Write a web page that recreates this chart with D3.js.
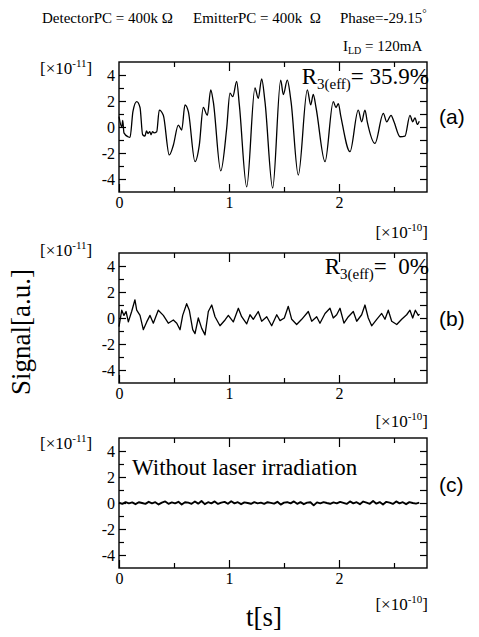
<!DOCTYPE html>
<html><head><meta charset="utf-8">
<script src="https://cdn.jsdelivr.net/npm/d3@7"></script>
<style>
body{margin:0;background:#fff;}
</style></head><body>
<svg id="chart" width="479" height="637"></svg>
<script>
// ---- data (t in units of 1e-10 s, signal in units of 1e-11 a.u.) ----
const seriesA = [
[0.000,0.8],[0.025,0.0],[0.034,0.5],[0.045,-0.45],[0.082,-0.75],[0.100,-0.8],[0.127,1.2],[0.161,1.95],[0.191,1.5],
[0.215,-0.6],[0.236,-0.7],[0.250,-0.3],[0.264,-0.5],[0.280,-0.35],[0.291,-0.6],[0.305,-0.35],[0.318,-0.45],[0.343,-0.36],
[0.366,1.3],[0.403,0.9],[0.457,-2.15],[0.494,-1.4],[0.539,0.15],[0.570,-0.23],[0.600,1.7],[0.630,1.2],[0.691,-2.67],
[0.730,-1.4],[0.766,1.5],[0.803,0.9],[0.834,2.85],[0.857,1.95],[0.925,-3.38],[0.979,-0.1],[1.009,2.6],[1.034,2.33],
[1.070,3.5],[1.094,1.7],[1.161,-4.6],[1.236,3.0],[1.266,2.2],[1.297,3.7],[1.327,1.95],[1.397,-4.7],[1.470,3.6],
[1.494,2.5],[1.530,3.6],[1.564,1.95],[1.630,-3.7],[1.712,2.85],[1.743,1.7],[1.766,2.5],[1.791,1.5],[1.873,-2.67],
[1.948,1.95],[1.973,1.5],[1.994,1.8],[2.015,0.9],[2.100,-1.9],[2.175,1.3],[2.206,0.4],[2.236,1.3],[2.257,0.4],
[2.327,-1.26],[2.403,1.05],[2.434,0.4],[2.473,0.9],[2.500,0.4],[2.555,-0.75],[2.600,-0.7],[2.645,0.9],[2.670,0.4],
[2.691,0.7],[2.712,0.2],[2.730,0.45]
];
const seriesB = [
[0.000,-0.67],[0.025,0.6],[0.045,0.2],[0.064,0.5],[0.085,-0.3],[0.115,0.5],[0.145,1.4],[0.161,0.6],[0.191,0.2],
[0.221,-0.9],[0.252,-0.3],[0.282,0.2],[0.312,-0.4],[0.357,0.6],[0.403,0.2],[0.448,-0.4],[0.494,-0.15],[0.525,-0.4],
[0.555,-0.9],[0.579,0.2],[0.615,1.1],[0.639,0.6],[0.670,-0.9],[0.691,-1.2],[0.721,0.0],[0.752,-0.8],[0.782,-1.3],
[0.812,0.5],[0.843,1.0],[0.873,0.1],[0.918,-0.6],[0.964,-0.15],[0.994,0.2],[1.039,-0.3],[1.085,0.75],[1.115,0.1],
[1.161,-0.45],[1.191,0.25],[1.221,-0.1],[1.266,0.5],[1.297,-0.25],[1.343,0.1],[1.388,-0.6],[1.434,0.25],[1.464,-0.2],
[1.503,0.0],[1.539,0.9],[1.570,-0.1],[1.615,-0.5],[1.661,-0.1],[1.721,0.5],[1.752,-0.25],[1.797,0.1],[1.827,-0.4],
[1.873,0.35],[1.918,0.75],[1.948,0.0],[1.979,0.25],[2.009,0.75],[2.045,-0.4],[2.085,0.1],[2.130,0.5],[2.161,-0.25],
[2.206,0.25],[2.236,1.0],[2.266,0.0],[2.297,-0.6],[2.343,-0.1],[2.388,0.35],[2.418,-0.1],[2.448,0.6],[2.479,-0.25],
[2.525,-0.5],[2.570,-0.1],[2.615,0.25],[2.645,0.6],[2.670,0.0],[2.694,0.6],[2.721,0.2],[2.732,0.3]
];
const seriesC = [
[0.00,0.03],[0.03,-0.06],[0.06,0.07],[0.09,-0.03],[0.12,0.05],[0.15,-0.09],[0.18,0.06],[0.21,0.00],[0.24,-0.07],
[0.27,0.09],[0.30,-0.03],[0.33,0.06],[0.36,-0.11],[0.39,0.03],[0.42,0.12],[0.45,-0.06],[0.48,0.05],[0.51,-0.03],
[0.54,0.09],[0.57,-0.12],[0.60,0.06],[0.63,0.03],[0.66,-0.06],[0.69,0.11],[0.72,-0.05],[0.75,0.15],[0.78,-0.09],
[0.81,0.06],[0.84,-0.03],[0.87,0.12],[0.90,-0.07],[0.93,0.03],[0.96,0.09],[0.99,-0.06],[1.02,0.13],[1.05,-0.03],
[1.08,0.06],[1.11,-0.09],[1.14,0.05],[1.17,0.00],[1.20,-0.06],[1.23,0.07],[1.26,-0.03],[1.29,0.03],[1.32,-0.07],
[1.35,0.06],[1.38,0.01],[1.41,-0.05],[1.44,0.09],[1.47,-0.12],[1.50,0.03],[1.53,0.06],[1.56,-0.03],[1.59,0.12],
[1.62,-0.06],[1.65,0.07],[1.68,-0.09],[1.71,0.03],[1.74,0.06],[1.77,-0.18],[1.80,0.05],[1.83,-0.03],[1.86,0.07],
[1.89,0.00],[1.92,-0.06],[1.95,0.05],[1.98,-0.03],[2.01,0.09],[2.04,0.01],[2.07,-0.07],[2.10,0.12],[2.13,-0.03],
[2.16,0.06],[2.19,-0.09],[2.22,0.11],[2.25,0.03],[2.28,-0.06],[2.31,0.15],[2.34,-0.05],[2.37,0.07],[2.40,-0.12],
[2.43,0.09],[2.46,0.03],[2.49,-0.07],[2.52,0.12],[2.55,-0.03],[2.58,0.06],[2.61,-0.09],[2.64,0.07],[2.67,0.00],
[2.70,-0.05],[2.73,0.03]
];
const xMajorTicks = [0, 1, 2];
const xMinorTicks = [0.5, 1.5, 2.5];
const yMajorTicks = [4, 2, 0, -2, -4];
const yMinorTicks = [3, 1, -1, -3];
const panelLabels = ["(a)", "(b)", "(c)"];
const ratioValues = ["35.9%", " 0%"];

// ---- layout ----
const SERIF = '"Liberation Serif", "Times New Roman", Times, serif';
const SANS = '"Liberation Sans", Arial, Helvetica, sans-serif';
const svg = d3.select("#chart");
const L = 119, R = 427, H = 130;
const tops = [62, 253, 438];
const x = d3.scaleLinear().domain([0, 2.8]).range([L, R]);

function txt(parent, size, fam) {
  return parent.append("text").style("font-family", fam || SERIF).style("font-size", size + "px").attr("fill", "#000");
}

function panel(i, data, curve) {
  const top = tops[i];
  const y = d3.scaleLinear().domain([-5, 5]).range([top + H, top]);
  const g = svg.append("g");
  const fmt = d => String(d);
  const ax = (sel) => {
    sel.attr("font-family", null).attr("font-size", null);
    sel.select(".domain").remove();
    sel.selectAll("line").attr("stroke", "#000").attr("stroke-width", 1.2);
    sel.selectAll("text").style("font-family", SERIF).style("font-size", "16px").attr("fill", "#000");
  };
  g.append("g").attr("transform", `translate(${L},0)`)
    .call(d3.axisLeft(y).tickValues(yMajorTicks).tickSize(-7).tickPadding(4).tickFormat(fmt)).call(ax);
  g.append("g").attr("transform", `translate(${L},0)`)
    .call(d3.axisLeft(y).tickValues(yMinorTicks).tickSize(-5).tickFormat("")).call(ax);
  g.append("g").attr("transform", `translate(${R},0)`)
    .call(d3.axisRight(y).tickValues(yMajorTicks.concat(yMinorTicks)).tickSize(-7).tickFormat("")).call(ax);
  g.append("g").attr("transform", `translate(0,${top + H})`)
    .call(d3.axisBottom(x).tickValues(xMajorTicks).tickSize(-8).tickPadding(5).tickFormat(fmt)).call(ax);
  g.append("g").attr("transform", `translate(0,${top + H})`)
    .call(d3.axisBottom(x).tickValues(xMinorTicks).tickSize(-5).tickFormat("")).call(ax);
  g.append("g").attr("transform", `translate(0,${top})`)
    .call(d3.axisTop(x).tickValues([1, 2]).tickSize(-9).tickFormat("")).call(ax);
  g.append("g").attr("transform", `translate(0,${top})`)
    .call(d3.axisTop(x).tickValues(xMinorTicks).tickSize(-5).tickFormat("")).call(ax);
  g.append("rect").attr("x", L).attr("y", top).attr("width", R - L).attr("height", H)
    .attr("fill", "none").attr("stroke", "#000").attr("stroke-width", 1.4);
  const line = d3.line().x(d => x(d[0])).y(d => y(d[1])).curve(curve);
  g.append("path").datum(data).attr("d", line).attr("fill", "none")
    .attr("stroke", "#000").attr("stroke-width", i === 2 ? 1.9 : 1.3).attr("stroke-linejoin", "round");
  const ly = [124, 326, 492][i];
  txt(g, 21, SANS).attr("x", 439).attr("y", ly).text(panelLabels[i]);
  return y;
}

panel(0, seriesA, d3.curveMonotoneX);
panel(1, seriesB, d3.curveLinear);
panel(2, seriesC, d3.curveLinear);

// y multipliers
[74, 256, 449].forEach(by => {
  const t = txt(svg, 17).attr("x", 40).attr("y", by);
  t.append("tspan").text("[×10");
  t.append("tspan").style("font-size", "11px").attr("dy", -7).text("-11");
  t.append("tspan").attr("dy", 7).text("]");
});
// x multipliers
[238, 427, 610].forEach(by => {
  const t = txt(svg, 17).attr("x", 428).attr("y", by).attr("text-anchor", "end");
  t.append("tspan").text("[×10");
  t.append("tspan").style("font-size", "11px").attr("dy", -7).text("-10");
  t.append("tspan").attr("dy", 7).text("]");
});

// R3(eff) labels
[[tops[0] + 22, ratioValues[0]], [tops[1] + 21, ratioValues[1]]].forEach(([by, v]) => {
  const t = txt(svg, 23).attr("x", 429).attr("y", by).attr("text-anchor", "end").style("white-space", "pre");
  t.append("tspan").text("R");
  t.append("tspan").style("font-size", "15px").attr("dy", 5).text("3(eff)");
  t.append("tspan").attr("dy", -5).text("= " + v);
});

txt(svg, 23).attr("x", 132).attr("y", 475).text("Without laser irradiation");

// header
txt(svg, 15).attr("x", 42).attr("y", 23).style("white-space", "pre").text("DetectorPC = 400k Ω");
txt(svg, 15).attr("x", 193).attr("y", 23).style("white-space", "pre").text("EmitterPC = 400k  Ω");
const ph = txt(svg, 15).attr("x", 340).attr("y", 23);
ph.append("tspan").text("Phase=-29.15");
ph.append("tspan").style("font-size", "11px").attr("dy", -6).text("°");
const ild = txt(svg, 15).attr("x", 343).attr("y", 51).style("white-space", "pre");
ild.append("tspan").text("I");
ild.append("tspan").style("font-size", "10px").attr("dy", 3).text("LD");
ild.append("tspan").attr("dy", -3).text(" = 120mA");

// axis titles
txt(svg, 27).attr("transform", "translate(30,332) rotate(-90)").attr("text-anchor", "middle").text("Signal[a.u.]");
txt(svg, 27).attr("x", 264).attr("y", 626).attr("text-anchor", "middle").text("t[s]");
</script>
</body></html>
